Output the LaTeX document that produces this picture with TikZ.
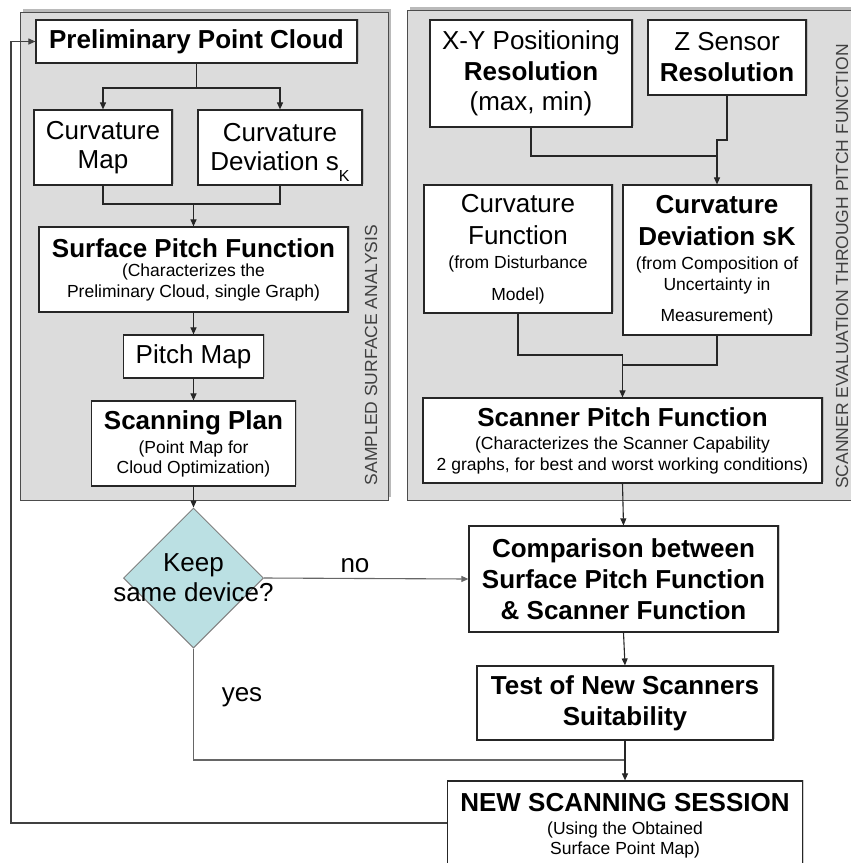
\documentclass[tikz,border=0pt]{standalone}
\usepackage{fontspec}
\setmainfont{Liberation Sans}
\usetikzlibrary{arrows.meta,shapes.geometric,shadows}
\definecolor{panelgray}{HTML}{DCDCDC}
\definecolor{diafill}{HTML}{BBE0E3}
\newcommand\hdf{\fontsize{26}{26}\selectfont\bfseries}
\newcommand\rgf{\fontsize{26}{26}\selectfont}
\newcommand\sbf{\fontsize{17.5}{17.5}\selectfont}
\newcommand\tightlines[1]{\fontsize{#1}{0}\selectfont\lineskiplimit=-100pt\relax}
\tikzset{
  panel/.style={fill=panelgray, draw=black!70, line width=1pt,
    drop shadow={shadow xshift=3pt, shadow yshift=3pt, fill=black!45, opacity=0.6}},
  box/.style={draw=black!85, line width=1.2pt, fill=white, align=center, inner sep=0pt,
    font={\tightlines{17.5}},
    drop shadow={shadow xshift=1.5pt, shadow yshift=1.5pt, fill=black!40, opacity=0.5}},
  conn/.style={draw=black!85, line width=1.1pt},
  arr/.style={conn, -{Triangle[length=7pt,width=6pt]}},
  garr/.style={arr, draw=black!60},
  vlabel/.style={rotate=90, font=\fontsize{17.5}{17.5}\selectfont, text=black!75, inner sep=0pt},
  lbl/.style={font=\rgf, inner sep=0pt, anchor=base},
}
\begin{document}
\begin{tikzpicture}[x=1pt,y=-1pt]
\useasboundingbox (0,0) rectangle (851,863);
% panels
\path[panel] (20,12) rectangle (388,500);
\path[panel] (407,10) rectangle (870,500);
\node[vlabel] (sslbl) at (371,355) {SAMPLED SURFACE ANALYSIS};
\node[vlabel] (selbl) at (842,266.5) {SCANNER EVALUATION THROUGH PITCH FUNCTION};
% left column
\node[box, minimum width=321pt, minimum height=43pt] (ppc) at (196.5,41.5) {\hdf Preliminary Point Cloud};
\node[box, minimum width=138pt, minimum height=75pt] (cmap) at (103,147.5) {\rgf Curvature\\[29pt]\rgf Map};
\node[box, minimum width=164pt, minimum height=75pt] (cdev) at (280,147.5) {\rgf Curvature\\[29pt]\rgf Deviation s\raisebox{-11pt}[0pt][0pt]{\fontsize{16}{16}\selectfont K}};
\node[box, minimum width=309pt, minimum height=85pt] (spf) at (193.5,269.5) {\hdf Surface Pitch Function\\[19pt]\sbf (Characterizes the\\[21pt]\sbf Preliminary Cloud, single Graph)};
\node[box, minimum width=140pt, minimum height=43pt] (pmap) at (193.5,356.5) {\rgf Pitch Map};
\node[box, minimum width=204pt, minimum height=85pt] (splan) at (193.5,443.5) {\hdf Scanning Plan\\[24pt]\sbf (Point Map for\\[20pt]\sbf Cloud Optimization)};
\node[diamond, draw=black!50, line width=1pt, fill=diafill, minimum width=140pt, minimum height=140pt, inner sep=-25pt, align=center, font={\tightlines{26}}] (keep) at (193.5,578) {Keep\\[30pt]same device?};
% right column
\node[box, minimum width=202pt, minimum height=107pt] (xy) at (531,73.5) {\rgf X-Y Positioning\\[31pt]\hdf Resolution\\[30pt]\rgf (max, min)};
\node[box, minimum width=158pt, minimum height=75pt] (zs) at (727,57.5) {\rgf Z Sensor\\[31pt]\hdf Resolution};
\node[box, minimum width=188pt, minimum height=128pt] (cfun) at (518,249) {\rgf Curvature\\[32pt]\rgf Function\\[24pt]\sbf (from Disturbance\\[32pt]\sbf Model)};
\node[box, minimum width=188pt, minimum height=150pt] (cdsk) at (717,260) {\hdf Curvature\\[32pt]\hdf Deviation sK\\[24pt]\sbf (from Composition of\\[21pt]\sbf Uncertainty in\\[31pt]\sbf Measurement)};
\node[box, minimum width=399pt, minimum height=85pt] (scpf) at (622.5,440.5) {\hdf Scanner Pitch Function\\[23pt]\sbf (Characterizes the Scanner Capability\\[21pt]\sbf 2 graphs, for best and worst working conditions)};
\node[box, minimum width=309pt, minimum height=106pt] (comp) at (623.5,579) {\hdf Comparison between\\[31pt]\hdf Surface Pitch Function\\[31pt]\hdf \& Scanner Function};
\node[box, minimum width=296pt, minimum height=74pt] (test) at (625,703) {\hdf Test of New Scanners\\[31pt]\hdf Suitability};
\node[box, minimum width=355pt, minimum height=90pt] (nss) at (625,826) {\hdf NEW SCANNING SESSION\\[23pt]\sbf (Using the Obtained\\[20pt]\sbf Surface Point Map)};
% labels
\node[lbl] (no) at (355,572) {no};
\node[lbl] (yes) at (242,701) {yes};
% connectors left
\coordinate (j1) at (196.5,88);
\draw[conn] (ppc.south) -- (j1);
\draw[arr] (j1) -| (cmap.north);
\draw[arr] (j1) -| (cdev.north);
\coordinate (j2) at (193.5,204);
\draw[conn] (cmap.south) |- (j2);
\draw[conn] (cdev.south) |- (j2);
\draw[arr] (j2) -- (spf.north);
\draw[arr] (spf.south) -- (pmap.north);
\draw[arr] (pmap.south) -- (splan.north);
\draw[arr] (splan.south) -- (keep.north);
\draw[garr] (keep.east) -- (comp.west);
\coordinate (j3) at (625,760);
\draw[conn, draw=black!60] (keep.south) |- (j3);
% connectors right
\coordinate (j4) at (717,156);
\coordinate (j5) at (717,140);
\draw[conn] (xy.south) |- (j4);
\draw[conn] (zs.south) |- (j5) -- (j4);
\draw[arr] (j4) -- (cdsk.north);
\coordinate (j6) at (622.5,355);
\coordinate (j7) at (622.5,365);
\draw[conn] (cfun.south) |- (j6) -- (j7);
\draw[conn] (cdsk.south) |- (j7);
\draw[arr] (j6) -- (scpf.north);
\draw[arr] (scpf.south) -- (comp.north);
\draw[arr] (comp.south) -- (test.north);
\draw[arr] (test.south) -- (nss.north);
\coordinate (fb) at (11,41.5);
\draw[arr, draw=black!75] ([yshift=3pt]nss.west) -| (fb) -- (ppc.west);
\end{tikzpicture}
\end{document}
